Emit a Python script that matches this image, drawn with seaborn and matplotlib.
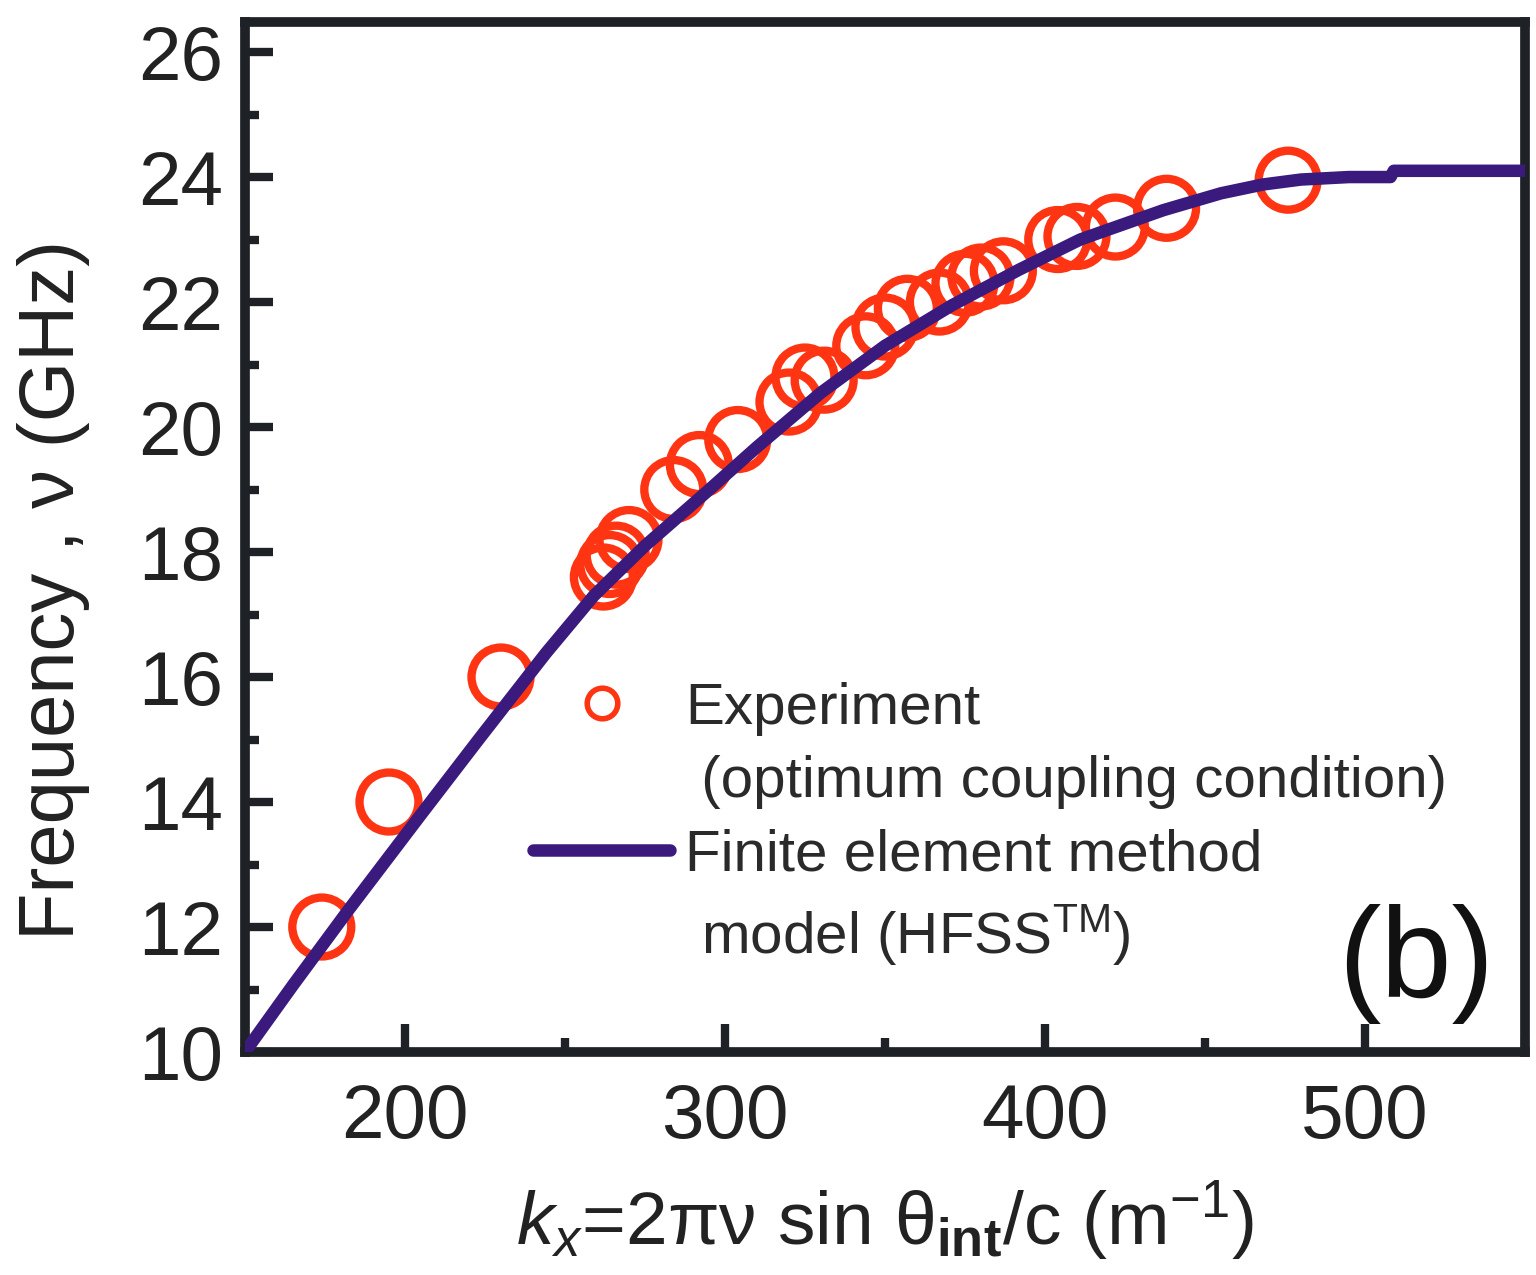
import matplotlib
matplotlib.use("Agg")
import matplotlib.pyplot as plt
from matplotlib.lines import Line2D
from matplotlib.ticker import MultipleLocator
import seaborn as sns
import pandas as pd

# Experimental points (optimum coupling condition)
exp_k = [174, 195, 230, 262, 264, 266, 270, 284, 292, 304, 320, 325, 331,
         344, 350, 357, 367, 375, 380, 387, 404, 410, 422, 438, 476]
exp_f = [12.0, 14.0, 16.0, 17.6, 17.8, 17.95, 18.2, 19.0, 19.4, 19.8, 20.4,
         20.8, 20.75, 21.3, 21.6, 21.9, 22.0, 22.3, 22.4, 22.5, 23.0, 23.05,
         23.2, 23.5, 23.95]

# Finite element method model (HFSS)
fem_k = [150, 165, 182, 205, 223, 244, 259, 275, 294, 310, 330, 350, 371,
         392, 411, 437, 455, 468, 480, 495, 508, 509, 550]
fem_f = [10.0, 11.07, 12.25, 13.8, 15.0, 16.38, 17.3, 18.1, 18.95, 19.68,
         20.55, 21.3, 21.95, 22.52, 23.0, 23.47, 23.74, 23.88, 23.96, 24.0,
         24.0, 24.1, 24.1]

x_ticks = [200, 300, 400, 500]
y_ticks = [10, 12, 14, 16, 18, 20, 22, 24, 26]

RED = "#ff3412"
PURPLE = "#3b1a7e"
DARK = "#1e2226"

sns.set_theme(style="ticks")
plt.rcParams["font.family"] = ["Liberation Sans", "DejaVu Sans"]
plt.rcParams["mathtext.fontset"] = "custom"
plt.rcParams["mathtext.rm"] = "Liberation Sans"
plt.rcParams["mathtext.it"] = "Liberation Sans:italic"
plt.rcParams["mathtext.bf"] = "Liberation Sans:bold"

df_exp = pd.DataFrame({"k": exp_k, "f": exp_f})
df_fem = pd.DataFrame({"k": fem_k, "f": fem_f})

fig = plt.figure(figsize=(15.36, 12.75), dpi=100)
ax = fig.add_axes([0.1595, 0.1749, 0.8333, 0.8078])

sns.scatterplot(data=df_exp, x="k", y="f", ax=ax, marker="o", s=1800,
                facecolors="none", edgecolor=RED, linewidth=6, zorder=2,
                legend=False)
sns.lineplot(data=df_fem, x="k", y="f", ax=ax, color=PURPLE, linewidth=9,
             zorder=3, legend=False)

ax.set_xlim(150, 550)
ax.set_ylim(10, 26.48)
ax.set_xticks(x_ticks)
ax.set_yticks(y_ticks)
ax.xaxis.set_minor_locator(MultipleLocator(50))
ax.yaxis.set_minor_locator(MultipleLocator(1))
ax.tick_params(axis="both", which="major", direction="in", length=20,
               width=6, color=DARK, labelsize=55, labelcolor="#222222",
               top=False, right=False)
ax.tick_params(axis="x", which="major", pad=22)
ax.tick_params(axis="y", which="major", pad=16)
ax.tick_params(axis="both", which="minor", direction="in", length=10,
               width=6, color=DARK, top=False, right=False)
for sp in ax.spines.values():
    sp.set_visible(True)
    sp.set_linewidth(7)
    sp.set_color(DARK)

ax.set_xlabel(r"$k_x$=2πν sin θ$_{\mathbf{int}}$/c (m$^{-1}$)", fontsize=54,
              color="#222222", labelpad=18)
ax.set_ylabel("Frequency , ν (GHz)", fontsize=56, color="#222222")
ax.yaxis.set_label_coords(-0.121, 0.449)

handles = [
    Line2D([], [], linestyle="none", marker="o", markersize=22,
           markerfacecolor="none", markeredgecolor=RED, markeredgewidth=4),
    Line2D([], [], linestyle="none"),
    Line2D([], [], color=PURPLE, linewidth=9),
    Line2D([], [], linestyle="none"),
]
labels = ["Experiment", " (optimum coupling condition)",
          "Finite element method", " model (HFSS$^{\\rm TM}$)"]
leg = ax.legend(handles, labels, loc="upper left",
                bbox_to_anchor=(0.207, 0.382), frameon=False, fontsize=42,
                handlelength=2.35, handletextpad=0.25, labelspacing=0.33,
                borderaxespad=0)
for t in leg.get_texts():
    t.set_color("#2a2a2a")

ax.text(0.915, 0.085, "(b)", transform=ax.transAxes, fontsize=92,
        ha="center", va="center", color="#111111")

fig.savefig("out.png", dpi=100, facecolor="white")
